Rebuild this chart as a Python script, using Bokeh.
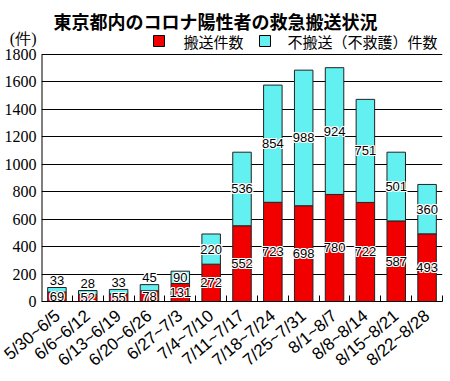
from bokeh.plotting import figure
from bokeh.models import FixedTicker, ColumnDataSource, Range1d
from bokeh.embed import file_html
from bokeh.resources import INLINE
from bokeh.core.properties import value

weeks = ["5/30~6/5", "6/6~6/12", "6/13~6/19", "6/20~6/26", "6/27~7/3",
         "7/4~7/10", "7/11~7/17", "7/18~7/24", "7/25~7/31", "8/1~8/7",
         "8/8~8/14", "8/15~8/21", "8/22~8/28"]
transported = [69, 52, 55, 78, 131, 272, 552, 723, 698, 780, 722, 587, 493]
not_transported = [33, 28, 33, 45, 90, 220, 536, 854, 988, 924, 751, 501, 360]
y_ticks = [0, 200, 400, 600, 800, 1000, 1200, 1400, 1600, 1800]

title_text = "東京都内のコロナ陽性者の救急搬送状況"
unit_text = "(件)"
legend_labels = ["搬送件数", "不搬送（不救護）件数"]

RED = "#f20000"
CYAN = "#62f0f0"
legend_colors = [RED, CYAN]

# layout (pixels)
TOTAL_W, TOTAL_H = 450, 381
BORDER_L, BORDER_R, BORDER_B = 41, 8, 80
FRAME_W = TOTAL_W - BORDER_L - BORDER_R          # 401
FRAME_H = TOTAL_H - BORDER_B                      # 301 (header lives inside the frame)
PLOT_H = 247                                      # pixel height of 0..1800
Y_MAX = 1800
N = len(weeks)
units_per_px_y = Y_MAX / PLOT_H
units_per_px_x = N / FRAME_W
Y_TOP = FRAME_H * units_per_px_y


def px_x(img_x):
    return (img_x - BORDER_L) * units_per_px_x


def px_y(img_y):
    return (FRAME_H - img_y) * units_per_px_y


xs = [i + 0.5 for i in range(N)]
totals = [a + b for a, b in zip(transported, not_transported)]

red_label_y = [a / 2 for a in transported]
cyan_label_y = []
cyan_baseline = []
for a, b in zip(transported, not_transported):
    if b / units_per_px_y >= 10:
        cyan_label_y.append(a + b / 2)
        cyan_baseline.append("middle")
    else:
        cyan_label_y.append(a + b + 18)
        cyan_baseline.append("bottom")

src = ColumnDataSource(dict(
    x=xs, red=transported, cyan=not_transported, total=totals,
    red_txt=[str(v) for v in transported], cyan_txt=[str(v) for v in not_transported],
    ry=red_label_y, cy=cyan_label_y, cb=cyan_baseline,
))

p = figure(frame_width=FRAME_W, frame_height=FRAME_H,
           x_range=Range1d(0, N), y_range=Range1d(0, Y_TOP),
           output_backend="svg", toolbar_location=None,
           min_border_left=BORDER_L, min_border_right=BORDER_R,
           min_border_top=0, min_border_bottom=BORDER_B,
           background_fill_color="white", border_fill_color="white")
p.outline_line_color = None

p.vbar(x="x", width=0.6, bottom=0, top="red", source=src,
       fill_color=RED, line_color="#222222", line_width=1)
p.vbar(x="x", width=0.6, bottom="red", top="total", source=src,
       fill_color=CYAN, line_color="#222222", line_width=1)

# y axis line only over the value range
p.segment(x0=[0], y0=[0], x1=[0], y1=[Y_MAX], line_color="black", line_width=2)

# value labels with white halo
offsets = [(-1, 0), (1, 0), (0, -1), (0, 1), (-1, -1), (1, 1), (-1, 1), (1, -1)]
for dx, dy in offsets + [(0, 0)]:
    col = "black" if (dx, dy) == (0, 0) else "white"
    p.text(x="x", y="ry", text="red_txt", source=src, x_offset=dx, y_offset=dy,
           text_align="center", text_baseline="middle", text_color=col,
           text_font=value("Liberation Sans"), text_font_size="13px")
    p.text(x="x", y="cy", text="cyan_txt", source=src, x_offset=dx, y_offset=dy,
           text_align="center", text_baseline="cb", text_color=col,
           text_font=value("Liberation Sans"), text_font_size="13px")

# header: title and legend (inside the frame, above the value range)
p.text(x=[px_x(215)], y=[px_y(20)], text=[title_text], text_align="center",
       text_baseline="middle", text_font=value("Noto Sans CJK JP"),
       text_font_style="bold", text_font_size="18px", text_color="black")
p.rect(x=[px_x(158.5), px_x(264.5)], y=[px_y(40.5)] * 2,
       width=11 * units_per_px_x, height=11 * units_per_px_y,
       fill_color=legend_colors, line_color="black", line_width=1)
p.text(x=[px_x(183), px_x(287)], y=[px_y(41)] * 2, text=legend_labels,
       text_align="left", text_baseline="middle", text_font=value("Noto Sans CJK JP"),
       text_font_size="15px", text_color="black")

# y axis (with the unit as an extra label at the top)
unit_y = px_y(38)
p.yaxis.ticker = FixedTicker(ticks=y_ticks + [unit_y])
p.yaxis.major_label_overrides = {unit_y: unit_text}
p.yaxis.major_tick_out = 0
p.yaxis.major_tick_in = 0
p.yaxis.minor_tick_out = 0
p.yaxis.minor_tick_in = 0
p.yaxis.axis_line_color = None
p.yaxis.major_label_standoff = 5
p.yaxis.major_label_text_font = "Liberation Serif"
p.yaxis.major_label_text_font_size = "16px"
p.yaxis.major_label_text_color = "black"

p.xaxis.ticker = FixedTicker(ticks=xs, minor_ticks=list(range(1, N + 1)))
p.xaxis.major_label_overrides = {x: w for x, w in zip(xs, weeks)}
p.xaxis.major_tick_out = 0
p.xaxis.major_tick_in = 0
p.xaxis.minor_tick_in = 6
p.xaxis.minor_tick_out = 0
p.xaxis.minor_tick_line_color = "black"
p.xaxis.axis_line_color = "black"
p.xaxis.major_label_orientation = 0.7
p.xaxis.major_label_standoff = 12
p.xaxis.major_label_text_font = "Liberation Sans"
p.xaxis.major_label_text_font_size = "17px"
p.xaxis.major_label_text_color = "black"

p.xgrid.visible = False
p.ygrid.ticker = FixedTicker(ticks=y_ticks)
p.ygrid.grid_line_color = "black"
p.ygrid.grid_line_width = 1

open("out.html", "w").write(file_html(p, INLINE))
